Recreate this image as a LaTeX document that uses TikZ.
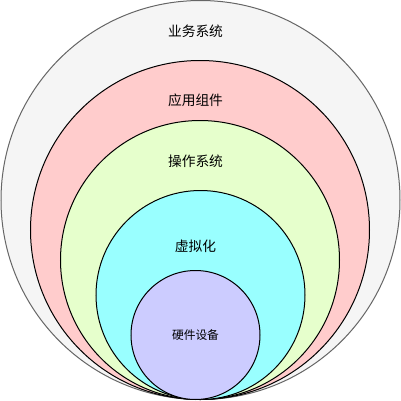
\documentclass[tikz,border=0pt]{standalone}
\usepackage{fontspec}
\newfontfamily\cjk{Noto Sans CJK SC}
\usetikzlibrary{calc}
\tikzstyle{ring}=[circle,line width=0.75pt,inner sep=0pt]
\tikzstyle{ringlabel} = [font=\cjk\fontsize{10.3}{12}\selectfont]
\tikzstyle{smalllabel} = [font=\cjk\fontsize{8.8}{10}\selectfont]

\begin{document}
\begin{tikzpicture}[x=0.75pt,y=-0.75pt]

\useasboundingbox (0,0) rectangle (401,401);

    % circles, all touching at the bottom
    \foreach \pos/ \r/ \col/ \edge/ \name in {{(200.5,200)/199.5/black!4/black!60/biz}, {(200,230)/169.5/red!20/black/app}, {(200,260)/139.5/{rgb,255:red,230;green,255;blue,204}/black/os}, {(200.5,295)/104.5/{rgb,255:red,153;green,255;blue,255}/black/virt}, {(195.5,335)/64.5/{rgb,255:red,204;green,204;blue,255}/black/hw}}
        \node[ring,fill=\col,draw=\edge,minimum size=2*\r*0.75pt] (\name) at \pos {};

    \foreach \pos/ \name/ \txt in {{(195.5,31)/biztext/业务系统}, {(195.5,100)/apptext/应用组件}, {(195.5,161)/ostext/操作系统}, {(195.5,246)/virttext/虚拟化}}
        \node[ringlabel] (\name) at \pos {\txt};

    \node[smalllabel] (hwtext) at (hw) {硬件设备};

\end{tikzpicture}
\end{document}
